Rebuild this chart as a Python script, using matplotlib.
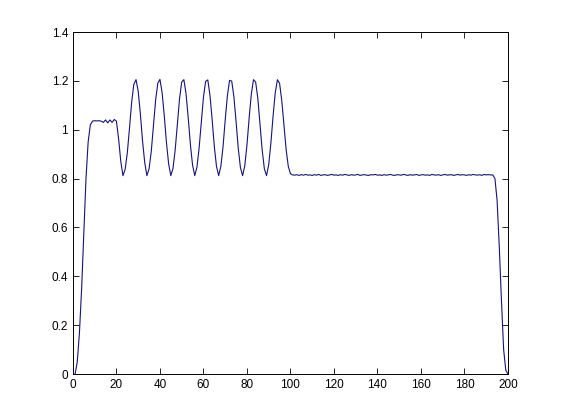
import matplotlib
matplotlib.use("Agg")
import matplotlib.pyplot as plt
from matplotlib.ticker import FixedLocator, FixedFormatter

# sample index (1..200) and signal values
x_values = list(range(1, 201))

rise = [0.00, 0.05, 0.17, 0.35, 0.58, 0.80, 0.95, 1.02, 1.035, 1.037,
        1.036, 1.037, 1.035, 1.030, 1.040, 1.028, 1.040, 1.030, 1.042, 1.035]

oscillation = [0.962, 0.870, 0.812, 0.838, 0.905, 1.006, 1.113, 1.186, 1.205, 1.158,
               1.065, 0.954, 0.866, 0.812, 0.840, 0.910, 1.014, 1.120, 1.190, 1.206,
               1.152, 1.057, 0.947, 0.860, 0.812, 0.842, 0.917, 1.023, 1.126, 1.195,
               1.205, 1.147, 1.049, 0.939, 0.855, 0.812, 0.846, 0.924, 1.031, 1.133,
               1.198, 1.204, 1.141, 1.041, 0.931, 0.850, 0.812, 0.850, 0.930, 1.039,
               1.139, 1.202, 1.199, 1.135, 1.033, 0.924, 0.845, 0.812, 0.852, 0.937,
               1.047, 1.145, 1.205, 1.195, 1.128, 1.025, 0.917, 0.840, 0.812, 0.857,
               0.945, 1.055, 1.151, 1.205, 1.190, 1.120, 1.020, 0.920, 0.850, 0.820]

flat = [0.815, 0.814, 0.816, 0.813, 0.816, 0.814, 0.817, 0.814, 0.815, 0.813,
        0.816, 0.814, 0.817, 0.813, 0.815, 0.816, 0.813, 0.815, 0.817, 0.814,
        0.815, 0.813, 0.816, 0.814, 0.817, 0.815, 0.813, 0.816, 0.814, 0.815,
        0.817, 0.813, 0.815, 0.816, 0.814, 0.813, 0.816, 0.815, 0.817, 0.814,
        0.815, 0.813, 0.816, 0.814, 0.815, 0.817, 0.814, 0.813, 0.816, 0.815,
        0.814, 0.817, 0.815, 0.813, 0.816, 0.814, 0.815, 0.817, 0.813, 0.815,
        0.816, 0.814, 0.815, 0.813, 0.817, 0.815, 0.814, 0.816, 0.813, 0.815,
        0.817, 0.814, 0.815, 0.816, 0.813, 0.815, 0.817, 0.814, 0.816, 0.815,
        0.813, 0.816, 0.814, 0.817, 0.815, 0.814, 0.816, 0.813, 0.817, 0.815,
        0.816, 0.815, 0.815]

fall = [0.80, 0.71, 0.52, 0.30, 0.10, 0.015, 0.0]

y_values = rise + oscillation + flat + fall

x_ticks = [0, 20, 40, 60, 80, 100, 120, 140, 160, 180, 200]
x_tick_labels = ["0", "20", "40", "60", "80", "100", "120", "140", "160", "180", "200"]
y_ticks = [0, 0.2, 0.4, 0.6, 0.8, 1.0, 1.2, 1.4]
y_tick_labels = ["0", "0.2", "0.4", "0.6", "0.8", "1", "1.2", "1.4"]

plt.rcParams['font.family'] = ['Liberation Sans', 'DejaVu Sans']

fig = plt.figure(figsize=(5.61, 4.20), dpi=100, facecolor='white')
ax = fig.add_axes([0.130, 0.1095, 0.7755, 0.8143])
ax.plot(x_values, y_values, color='#14147a', linewidth=0.8)

ax.set_xlim(0, 200)
ax.set_ylim(0, 1.4)
ax.xaxis.set_major_locator(FixedLocator(x_ticks))
ax.xaxis.set_major_formatter(FixedFormatter(x_tick_labels))
ax.yaxis.set_major_locator(FixedLocator(y_ticks))
ax.yaxis.set_major_formatter(FixedFormatter(y_tick_labels))

ax.tick_params(direction='in', top=True, right=True, length=4, width=0.6,
               labelsize=8.5, pad=3.5, colors='black')
for sp in ax.spines.values():
    sp.set_linewidth(0.7)
    sp.set_color('black')

fig.savefig('out.png', dpi=100, facecolor='white')
